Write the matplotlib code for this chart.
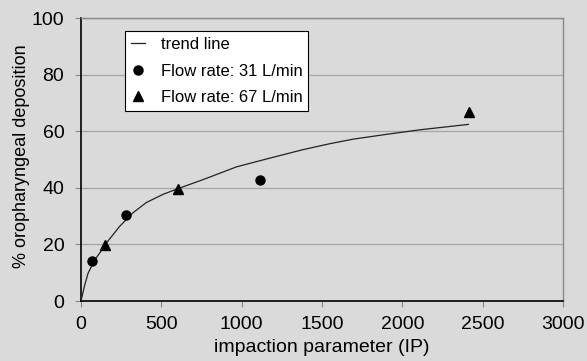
import matplotlib
matplotlib.use("Agg")
import matplotlib.pyplot as plt

plt.rcParams['font.family'] = ['Liberation Sans', 'DejaVu Sans']

# data
trend_x = [0, 23, 44, 85, 117, 154, 241, 324, 407, 511, 594, 760, 968, 1176,
           1383, 1550, 1695, 1903, 2110, 2411]
trend_y = [0, 5.6, 9.8, 14.5, 17.0, 20.2, 26.4, 31.2, 34.8, 37.7, 39.5, 42.9,
           47.4, 50.5, 53.5, 55.6, 57.2, 58.9, 60.5, 62.4]
ip_31 = [69, 280, 1115]
dep_31 = [14.3, 30.3, 42.6]
ip_67 = [152, 602, 2414]
dep_67 = [19.8, 39.4, 66.8]
xticks = [0, 500, 1000, 1500, 2000, 2500, 3000]
yticks = [0, 20, 40, 60, 80, 100]

bg = '#dadada'
fig = plt.figure(figsize=(5.87, 3.61), dpi=100, facecolor=bg)
ax = fig.add_axes([81/587, 1-301/361, (563-81)/587, (301-18)/361])
ax.set_facecolor(bg)

ax.plot(trend_x, trend_y, color='#222222', lw=0.9, label='trend line', zorder=3)
ax.plot(ip_31, dep_31, 'o', color='black', ms=6.5, label='Flow rate: 31 L/min', zorder=4)
ax.plot(ip_67, dep_67, '^', color='black', ms=7, label='Flow rate: 67 L/min', zorder=4)

ax.set_xlim(0, 3000)
ax.set_ylim(0, 100)
ax.set_xticks(xticks)
ax.set_yticks(yticks)
ax.yaxis.grid(True, color='#a8a8a8', lw=1)
ax.set_axisbelow(True)
for s in ['left', 'bottom']:
    ax.spines[s].set_color('black')
    ax.spines[s].set_linewidth(1.2)
for s in ['top', 'right']:
    ax.spines[s].set_color('#888888')
    ax.spines[s].set_linewidth(1.0)
ax.tick_params(axis='both', labelsize=14, direction='out', length=4, width=0.8, color='#888888')
ax.tick_params(axis='x', pad=7)
ax.tick_params(axis='y', pad=8)

ax.set_xlabel('impaction parameter (IP)', fontsize=14, labelpad=4)
ax.set_ylabel('% oropharyngeal deposition', fontsize=13)
ax.yaxis.set_label_coords(-(81-30)/482, (301-156)/283)

leg = ax.legend(loc='upper left', bbox_to_anchor=((125-81)/482, 1-(31-18)/283),
                frameon=True, fancybox=False, edgecolor='black', facecolor='white',
                fontsize=12, handlelength=0.85, borderpad=0.35, labelspacing=0.7,
                handletextpad=0.95, borderaxespad=0)
leg.get_frame().set_linewidth(0.8)
leg.get_frame().set_alpha(1)

fig.savefig('out.png', dpi=100, facecolor=bg)
